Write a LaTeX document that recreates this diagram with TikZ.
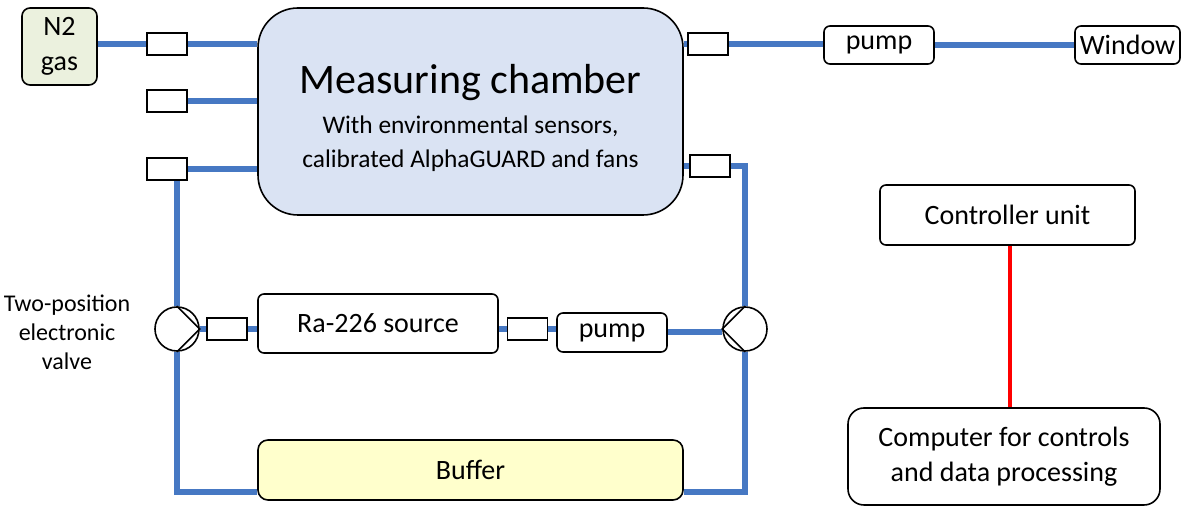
\documentclass[tikz,border=0pt]{standalone}
\usepackage{fontspec}
\setmainfont{Carlito}
\usetikzlibrary{positioning, calc, backgrounds}
\definecolor{colPipe}{RGB}{70, 120, 195}
\definecolor{colChamber}{RGB}{218, 227, 243}
\definecolor{colGas}{RGB}{235, 241, 222}
\definecolor{colBuffer}{RGB}{255, 255, 204}

\begin{document}
\begin{tikzpicture}[x=0.5pt, y=-0.5pt,
    every node/.style={font=\fontsize{14}{17.5}\selectfont},
    unit/.style={draw, line width=0.8pt, rounded corners=3pt, align=center, inner sep=0pt},
    port/.style={draw, line width=0.8pt, fill=white, minimum width=20pt, minimum height=11pt, inner sep=0pt},
    valve/.style={draw, line width=0.8pt, circle, fill=white, minimum size=22pt, inner sep=0pt},
    pipe/.style={colPipe, line width=3pt}]
    \useasboundingbox (0, 0) rectangle (1185, 506);

    % --- Gas supply and chamber ---
    \node[unit, fill=colGas, rounded corners=4pt, minimum width=37.5pt, minimum height=38.5pt] (gas) at (59.5, 46.5) {N2\\gas};
    \node[unit, fill=colChamber, rounded corners=20pt, minimum width=212.5pt, minimum height=103.5pt] (chamber) at (470.5, 111.5) {};
    \node[align=center, font=\fontsize{12.7}{17}\selectfont] (chambertxt) at (470.5, 118)
        {{\fontsize{21}{24}\selectfont Measuring chamber}\\[3pt]
         With environmental sensors,\\calibrated AlphaGUARD and fans};
    \node[port] (inlet) at (167, 44) {};
    \node[port] (spare) at (167, 101) {};
    \node[port] (retout) at (167, 169) {};
    \node[port] (exhaust) at (708, 44) {};
    \node[port] (retin) at (710, 166) {};

    % --- Exhaust line ---
    \node[unit, minimum width=55pt, minimum height=19pt] (pumpout) at (879, 45) {pump};
    \node[unit, minimum width=52.5pt, minimum height=19pt] (window) at (1127.5, 45) {Window};

    % --- Source loop ---
    \node[valve] (valveL) at (177, 329) {};
    \node[valve] (valveR) at (745, 329) {};
    \node[port] (srcin) at (227, 329) {};
    \node[unit, minimum width=120pt, minimum height=29.5pt] (source) at (378, 323.5) {Ra-226 source};
    \node[port] (srcout) at (527.5, 329) {};
    \node[unit, minimum width=55pt, minimum height=19.5pt] (pumpsrc) at (612, 332.5) {pump};
    \node[unit, fill=colBuffer, rounded corners=5pt, minimum width=212.5pt, minimum height=30pt] (buffer) at (470.5, 470) {Buffer};
    \node[align=center, font=\fontsize{12}{14.5}\selectfont] (valvelbl) at (67, 332) {Two-position\\electronic\\valve};
    \coordinate (bottomL) at (177, 492);
    \coordinate (bottomR) at (745, 492);

    % --- Control ---
    \node[unit, minimum width=127.5pt, minimum height=30pt] (ctrl) at (1007.5, 215) {Controller unit};
    \node[unit, rounded corners=8pt, minimum width=156pt, minimum height=48.5pt] (comp) at (1004, 456.5)
        {Computer for controls\\and data processing};
    \draw[red, line width=2pt] (ctrl.south -| 1010, 0) -- (comp.north -| 1010, 0);

    % valve positions
    \draw[line width=0.8pt] (valveL.north) -- (valveL.east) -- (valveL.south);
    \draw[line width=0.8pt] (valveR.north) -- (valveR.west) -- (valveR.south);

    \begin{scope}[on background layer]
        \draw[pipe] (inlet.west -| gas.east) -- (inlet.west);
        \draw[pipe] (inlet.east) -- (inlet.east -| chamber.west);
        \draw[pipe] (spare.east) -- (spare.east -| chamber.west);
        \draw[pipe] (retout.east) -- (retout.east -| chamber.west);
        \draw[pipe] (exhaust.west -| chamber.east) -- (exhaust.west);
        \draw[pipe] (exhaust.east) -- (pumpout.west |- exhaust.east);
        \draw[pipe] (pumpout.east) -- (window.west);
        \draw[pipe] (retin.west -| chamber.east) -- (retin.west);
        \draw[pipe] (retin.east) -| (valveR.north);
        \draw[pipe] (valveL.north |- retout.south) -- (valveL.north);
        \draw[pipe] (valveL.south) |- (buffer.west |- bottomL);
        \draw[pipe] (valveR.south) |- (buffer.east |- bottomR);
        \draw[pipe] (valveL.east) -- (srcin.west);
        \draw[pipe] (srcin.east) -- (srcin.east -| source.west);
        \draw[pipe] (srcout.west -| source.east) -- (srcout.west);
        \draw[pipe] (srcout.east) -- (srcout.east -| pumpsrc.west);
        \draw[pipe] (pumpsrc.east) -- (pumpsrc.east -| valveR.west);
    \end{scope}
\end{tikzpicture}
\end{document}
